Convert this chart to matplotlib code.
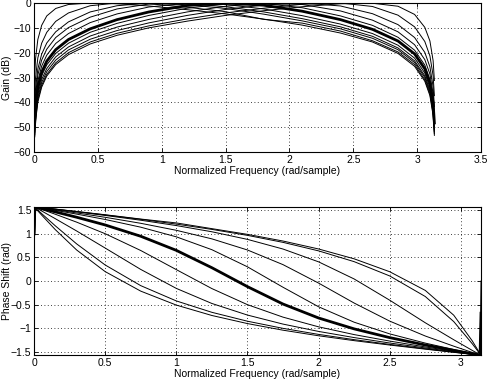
import matplotlib
matplotlib.use("Agg")
import matplotlib.pyplot as plt
import numpy as np

# ---------------- Gain plot data (dB) ----------------
gain_w = [0.006, 0.012, 0.03, 0.06, 0.1, 0.17, 0.27, 0.44, 0.65, 0.9, 1.2, 1.5,
          1.8, 2.1, 2.4, 2.65, 2.85, 2.98, 3.06, 3.1, 3.125, 3.135]
gain_curves = [
    [-28.5, -22.5, -14.7, -9.0, -5.2, -2.2, -0.6, 0.0, -0.3, -1.2, -2.7, -4.4, -6.5, -8.9, -12.1, -15.7, -20.3, -25.5, -31.5, -37.3, -45.3, -53.3],
    [-36.0, -30.1, -22.1, -16.2, -11.8, -7.4, -4.0, -1.1, 0.0, -0.3, -1.7, -3.5, -6.6, -8.1, -11.3, -15.2, -19.7, -24.8, -30.9, -36.6, -44.6, -52.6],
    [-40.6, -34.5, -26.6, -20.6, -16.1, -11.6, -7.6, -3.6, -1.1, 0.0, -0.7, -2.2, -4.5, -7.2, -10.4, -14.2, -18.8, -24.0, -30.0, -35.8, -43.8, -51.8],
    [-43.0, -37.0, -29.0, -23.0, -18.6, -13.9, -9.9, -5.7, -2.4, -0.4, -0.2, -1.5, -3.6, -6.3, -9.6, -13.4, -18.1, -23.3, -29.3, -35.0, -43.0, -51.1],
    [-45.4, -39.4, -31.4, -25.4, -21.0, -16.3, -12.3, -7.9, -4.4, -1.6, -0.1, -0.6, -2.4, -5.1, -8.5, -12.3, -17.0, -22.2, -28.2, -34.0, -42.0, -50.0],
    [-47.9, -41.9, -33.9, -27.9, -23.4, -18.8, -14.7, -10.4, -6.7, -3.6, -1.0, 0.0, -0.9, -3.3, -6.7, -10.6, -15.3, -20.5, -26.5, -32.3, -40.3, -48.3],
    [-49.4, -43.3, -35.4, -29.3, -24.9, -20.3, -16.2, -11.8, -8.2, -5.0, -2.1, -0.3, -0.2, -1.9, -5.2, -9.0, -13.8, -19.0, -25.0, -30.8, -38.8, -46.8],
    [-50.8, -44.8, -36.8, -30.8, -26.4, -21.7, -17.7, -13.3, -9.7, -6.6, -3.6, -1.3, -0.1, -0.6, -3.2, -6.9, -11.6, -16.8, -22.8, -28.6, -36.6, -44.6],
    [-52.0, -46.0, -38.1, -32.0, -27.6, -23.0, -18.9, -14.6, -11.1, -8.0, -5.0, -2.6, -0.8, 0.0, -1.2, -4.3, -8.7, -13.9, -19.9, -25.7, -33.7, -41.7],
    [-53.1, -47.1, -39.1, -33.1, -28.7, -24.1, -20.0, -15.7, -12.2, -9.2, -6.4, -4.0, -2.1, -0.5, 0.0, -1.4, -4.9, -9.6, -15.5, -21.3, -29.2, -37.3],
    [-53.9, -47.8, -39.9, -33.9, -29.4, -24.8, -20.8, -16.5, -13.0, -10.0, -7.3, -5.0, -3.1, -1.5, -0.3, -0.1, -1.3, -4.6, -9.8, -15.3, -23.2, -31.2],
]
gain_thick = 5

# ---------------- Phase plot data (rad) ----------------
phase_w = [0.0, 0.006, 0.05, 0.15, 0.3, 0.5, 0.75, 1.0, 1.25, 1.5, 1.75, 2.0, 2.25,
           2.5, 2.75, 2.95, 3.08, 3.135, 3.1416]
phase_curves = [
    [0.0, 1.569, 1.554, 1.520, 1.470, 1.401, 1.310, 1.228, 1.107, 0.986, 0.845, 0.677, 0.469, 0.196, -0.199, -0.723, -1.265, -1.537, 0.0],
    [0.0, 1.569, 1.554, 1.519, 1.467, 1.396, 1.304, 1.203, 1.091, 0.965, 0.817, 0.637, 0.409, 0.107, -0.328, -0.858, -1.326, -1.544, -1.571],
    [0.0, 1.569, 1.553, 1.517, 1.462, 1.386, 1.285, 1.172, 1.041, 0.880, 0.676, 0.405, 0.043, -0.406, -0.883, -1.242, -1.467, -1.560, -1.571],
    [0.0, 1.568, 1.549, 1.506, 1.439, 1.347, 1.220, 1.072, 0.891, 0.656, 0.346, -0.044, -0.466, -0.848, -1.163, -1.378, -1.510, -1.564, -1.571],
    [0.0, 1.568, 1.545, 1.494, 1.414, 1.301, 1.138, 0.934, 0.662, 0.300, -0.132, -0.545, -0.871, -1.118, -1.313, -1.448, -1.532, -1.567, -1.571],
    [1.0, 1.566, 1.535, 1.461, 1.348, 1.185, 0.946, 0.648, 0.281, -0.119, -0.487, -0.782, -1.012, -1.197, -1.353, -1.466, -1.538, -1.567, -0.68],
    [0.0, 1.564, 1.518, 1.411, 1.244, 1.000, 0.645, 0.241, -0.160, -0.500, -0.764, -0.969, -1.133, -1.270, -1.394, -1.485, -1.544, -1.568, -1.571],
    [0.0, 1.561, 1.487, 1.317, 1.057, 0.697, 0.245, -0.156, -0.475, -0.720, -0.911, -1.066, -1.196, -1.311, -1.416, -1.496, -1.547, -1.568, -1.571],
    [0.0, 1.555, 1.435, 1.166, 0.784, 0.339, -0.098, -0.421, -0.662, -0.850, -1.001, -1.129, -1.240, -1.340, -1.433, -1.504, -1.549, -1.568, -1.571],
    [0.0, 1.551, 1.406, 1.085, 0.655, 0.199, -0.214, -0.509, -0.729, -0.900, -1.040, -1.158, -1.261, -1.354, -1.441, -1.508, -1.551, -1.569, -1.571],
]
phase_thick = 5

gain_yticks = [-60, -50, -40, -30, -20, -10, 0]
gain_xticks = [0, 0.5, 1, 1.5, 2, 2.5, 3, 3.5]
phase_yticks = [-1.5, -1, -0.5, 0, 0.5, 1, 1.5]
phase_xticks = [0, 0.5, 1, 1.5, 2, 2.5, 3]
xlabel = "Normalized Frequency (rad/sample)"

plt.rcParams['font.family'] = ['Liberation Sans', 'DejaVu Sans']
plt.rcParams['font.size'] = 7.5

fig = plt.figure(figsize=(4.87, 3.83), dpi=100)
W, H = 487.0, 383.0

def style(ax):
    ax.grid(True, linestyle=(0, (1, 3)), color='black', linewidth=0.6)
    ax.tick_params(direction='in', length=3, width=0.6, pad=2, labelsize=7.5,
                   top=True, right=True)
    for sp in ax.spines.values():
        sp.set_linewidth(0.8)

# top axes
ax1 = fig.add_axes([34 / W, 1 - 152 / H, 447 / W, 149 / H])
for i, c in enumerate(gain_curves):
    ax1.plot(gain_w, c, color='black', lw=2.0 if i == gain_thick else 0.7)
ax1.set_xlim(0, 3.5)
ax1.set_ylim(-60, 0)
ax1.set_xticks(gain_xticks)
ax1.set_xticklabels(['0', '0.5', '1', '1.5', '2', '2.5', '3', '3.5'])
ax1.set_yticks(gain_yticks)
ax1.set_yticklabels(['\u221260', '\u221250', '\u221240', '\u221230', '\u221220', '\u221210', '0'])
ax1.set_xlabel(xlabel, labelpad=1)
ax1.set_ylabel("Gain (dB)")
ax1.yaxis.set_label_coords(-22 / 447, 0.5)
style(ax1)

# bottom axes
ax2 = fig.add_axes([34 / W, 1 - 355.3 / H, 447 / W, 148.6 / H])
for i, c in enumerate(phase_curves):
    ax2.plot(phase_w, c, color='black', lw=2.0 if i == phase_thick else 0.7)
ax2.set_xlim(0, np.pi)
ax2.set_ylim(-np.pi / 2, np.pi / 2)
ax2.set_xticks(phase_xticks)
ax2.set_xticklabels(['0', '0.5', '1', '1.5', '2', '2.5', '3'])
ax2.set_yticks(phase_yticks)
ax2.set_yticklabels(['\u22121.5', '\u22121', '\u22120.5', '0', '0.5', '1', '1.5'])
ax2.set_xlabel(xlabel, labelpad=1)
ax2.set_ylabel("Phase Shift (rad)")
ax2.yaxis.set_label_coords(-22 / 447, 0.5)
style(ax2)

fig.savefig("out.png", dpi=100)
